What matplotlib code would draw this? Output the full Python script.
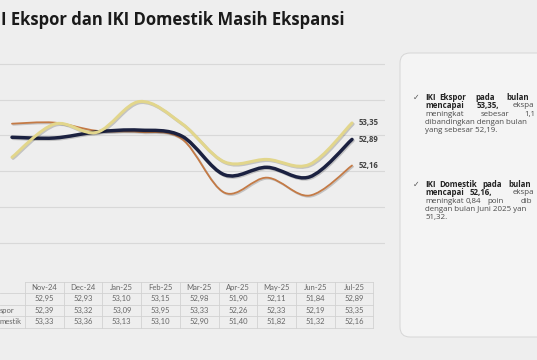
import matplotlib
matplotlib.use("Agg")
import matplotlib.pyplot as plt
from matplotlib.path import Path
from matplotlib.patches import PathPatch, FancyBboxPatch
import matplotlib.patheffects as pe

months = ['Nov-24', 'Dec-24', 'Jan-25', 'Feb-25', 'Mar-25', 'Apr-25', 'May-25', 'Jun-25', 'Jul-25']
iki = [52.95, 52.93, 53.10, 53.15, 52.98, 51.90, 52.11, 51.84, 52.89]
iki_ekspor = [52.39, 53.32, 53.09, 53.95, 53.33, 52.26, 52.33, 52.19, 53.35]
iki_domestik = [53.33, 53.36, 53.13, 53.10, 52.90, 51.40, 51.82, 51.32, 52.16]
row_labels = ['', 'spor', 'mestik']

BG = '#eeeeee'
NAVY = '#1b2140'
YELLOW = '#e2d68c'
BROWN = '#c47a45'
W, H = 537, 360


def fmt(v):
    return f'{v:.2f}'.replace('.', ',')


def smooth(xs, ys):
    # excel-like smoothed line (catmull-rom as cubic bezier)
    n = len(xs)
    verts = [(xs[0], ys[0])]
    codes = [Path.MOVETO]
    for i in range(n - 1):
        a = max(i - 1, 0)
        b = min(i + 2, n - 1)
        c1 = (xs[i] + (xs[i + 1] - xs[a]) / 6, ys[i] + (ys[i + 1] - ys[a]) / 6)
        c2 = (xs[i + 1] - (xs[b] - xs[i]) / 6, ys[i + 1] - (ys[b] - ys[i]) / 6)
        verts += [c1, c2, (xs[i + 1], ys[i + 1])]
        codes += [Path.CURVE4] * 3
    return Path(verts, codes)


fig = plt.figure(figsize=(W / 100, H / 100), dpi=100, facecolor=BG)

# background axes in pixel coords
bg = fig.add_axes([0, 0, 1, 1])
bg.set_xlim(0, W)
bg.set_ylim(H, 0)
bg.axis('off')

bg.text(1, 20, 'I Ekspor dan IKI Domestik Masih Ekspansi', fontsize=12, fontweight='bold',
        family='Open Sans', color='#1a1a1a', va='center', ha='left')

# right info box
box = FancyBboxPatch((400, 53), 160, 284, boxstyle='round,pad=0,rounding_size=10',
                     facecolor='#f4f4f4', edgecolor='#d6d6d6', lw=0.7)
bg.add_patch(box)

fs = 5.7
ls = 8.3


def put_line(y, words):
    for x, w, bold in words:
        bg.text(x, y, w, fontsize=fs, family=['Open Sans', 'DejaVu Sans'],
                fontweight='bold' if bold else 'normal',
                color='#222222' if bold else '#4a4a4a', va='center', ha='left')


def paragraph(y0, lines):
    bg.text(413, y0, '\u2713', fontsize=fs, family='DejaVu Sans', color='#555555', va='center')
    for i, words in enumerate(lines):
        put_line(y0 + i * ls, words)


paragraph(97.5, [
    [(425, 'IKI', True), (439, 'Ekspor', True), (475, 'pada', True), (506, 'bulan', True)],
    [(425, 'mencapai', True), (477, '53,35,', True), (513, 'ekspa', False)],
    [(425, 'meningkat', False), (481, 'sebesar', False), (524, '1,1', False)],
    [(425, 'dibandingkan dengan bulan', False)],
    [(425, 'yang sebesar 52,19.', False)],
])
paragraph(184.5, [
    [(425, 'IKI', True), (439, 'Domestik', True), (482, 'pada', True), (508, 'bulan', True)],
    [(425, 'mencapai', True), (470, '52,16,', True), (513, 'ekspa', False)],
    [(425, 'meningkat', False), (466, '0,84', False), (487, 'poin', False), (521, 'dib', False)],
    [(425, 'dengan bulan Juni 2025 yan', False)],
    [(425, '51,32.', False)],
])

# data table under the chart
x0, cw = 25, 38.7
rh = 11.5
top = 281.5
grid_c = '#d2d2d2'
ncol = len(months)
bg.plot([x0, x0 + cw * ncol], [top, top], color=grid_c, lw=0.6)
for r in range(1, 5):
    bg.plot([0, x0 + cw * ncol], [top + r * rh] * 2, color=grid_c, lw=0.6)
for c in range(ncol + 1):
    bg.plot([x0 + c * cw] * 2, [top, top + 4 * rh], color=grid_c, lw=0.6)

tkw = dict(fontsize=5.5, family='Lato', color='#666666', va='center')
for c, m in enumerate(months):
    xc = x0 + (c + 0.5) * cw
    bg.text(xc, top + 0.5 * rh, m, ha='center', **tkw)
    for r, series in enumerate([iki, iki_ekspor, iki_domestik]):
        bg.text(xc, top + (r + 1.5) * rh, fmt(series[c]), ha='center', **tkw)
for r, lab in enumerate(row_labels):
    bg.text(0, top + (r + 1.5) * rh, lab, ha='left', **tkw)

# chart axes: x px 0..385, 1 unit = 35.74 px, 55 at 64 px
px_per = 42.5
first_px = 12
ax_w = 385
unit = 35.74
y_top = 64 - 0.2 * unit
y_bot = 64 + 5.2 * unit
ax = fig.add_axes([0, 1 - y_bot / H, ax_w / W, (y_bot - y_top) / H])
ax.set_facecolor('none')
ax.set_xlim(-first_px / px_per, -first_px / px_per + ax_w / px_per)
ax.set_ylim(49.8, 55.2)
for s in ax.spines.values():
    s.set_visible(False)
ax.set_xticks([])
ax.set_yticks(range(50, 56))
ax.tick_params(left=False, labelleft=False)
ax.grid(axis='y', color='#d8d8d8', lw=0.8)
ax.set_axisbelow(True)

xs = list(range(len(months)))
shadow = [pe.SimpleLineShadow(offset=(0.8, -0.8), alpha=0.18), pe.Normal()]
for ys, col, lw, z in [(iki_domestik, BROWN, 1.3, 3), (iki, NAVY, 2.5, 4), (iki_ekspor, YELLOW, 2.2, 5)]:
    patch = PathPatch(smooth(xs, ys), facecolor='none', edgecolor=col, lw=lw,
                      capstyle='round', zorder=z, path_effects=shadow)
    ax.add_patch(patch)
    ax.annotate(fmt(ys[-1]), (xs[-1], ys[-1]), xytext=(4.5, 0), textcoords='offset points',
                fontsize=5.6, fontweight='bold', family='Open Sans', color='#444444',
                va='center', ha='left', annotation_clip=False)

fig.savefig('out.png', dpi=100, facecolor=BG)
